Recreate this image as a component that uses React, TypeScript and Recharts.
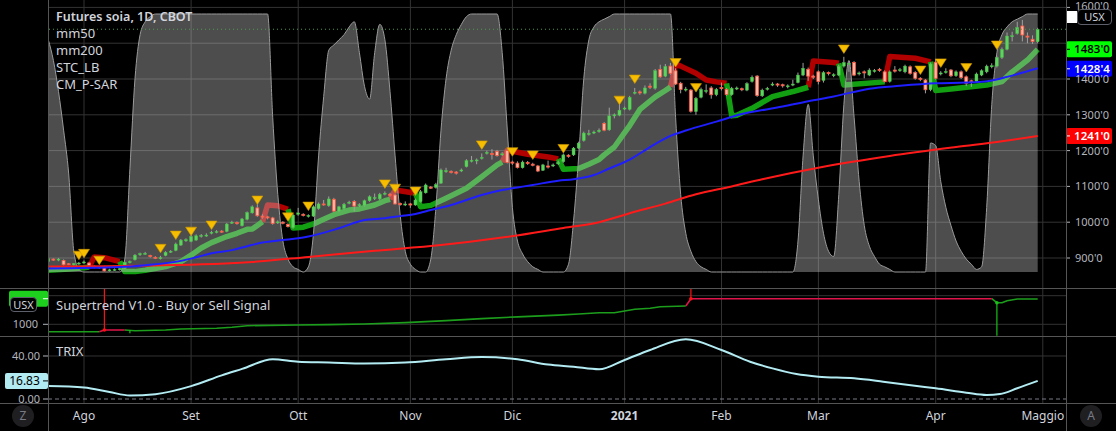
import React from "react";
import {
  ComposedChart,
  Line,
  Area,
  Bar,
  XAxis,
  YAxis,
  ReferenceLine,
  ReferenceDot,
} from "recharts";

// asse tempo (indice barra giornaliera)
const monthIdx = [7, 28, 49, 71, 91, 113, 132, 151, 174, 195];
const monthLabels = ["Ago", "Set", "Ott", "Nov", "Dic", "2021", "Feb", "Mar", "Apr", "Maggio"];
const priceTicks = [900, 1000, 1100, 1200, 1300, 1400, 1500, 1600];
const priceLabelTicks = [900, 1000, 1100, 1200, 1300, 1400, 1600];

// candele (23 lug 2020 -> 30 apr 2021)
const opens = [
  890, 897, 894, 893, 884, 881, 883, 886, 886, 877,
  873, 876, 864, 866, 867, 872, 887, 895, 909, 911,
  907, 902, 899, 907, 916, 921, 936, 948, 946, 950,
  960, 962, 969, 972, 975, 974, 997, 999, 990, 1008,
  1026, 1040, 1017, 1015, 1012, 998, 1000, 994, 985, 1022,
  1022, 1016, 1017, 1038, 1051, 1046, 1064, 1031, 1038, 1053,
  1058, 1046, 1047, 1060, 1066, 1065, 1078, 1078, 1076, 1052,
  1048, 1051, 1048, 1057, 1082, 1098, 1097, 1109, 1141, 1142,
  1140, 1143, 1155, 1170, 1171, 1178, 1192, 1192, 1198, 1188,
  1200, 1168, 1165, 1152, 1167, 1162, 1157, 1145, 1157, 1157,
  1163, 1169, 1187, 1188, 1207, 1228, 1245, 1249, 1253, 1276,
  1258, 1297, 1299, 1316, 1315, 1360, 1364, 1360, 1380, 1374,
  1427, 1408, 1436, 1423, 1388, 1369, 1369, 1309, 1349, 1365,
  1375, 1356, 1376, 1371, 1356, 1372, 1373, 1369, 1393, 1408,
  1353, 1371, 1383, 1386, 1384, 1378, 1383, 1390, 1411, 1427,
  1408, 1420, 1396, 1418, 1409, 1411, 1436, 1441, 1446, 1414,
  1420, 1411, 1421, 1427, 1420, 1393, 1425, 1423, 1420, 1434,
  1418, 1402, 1397, 1370, 1447, 1414, 1418, 1425, 1409, 1420,
  1406, 1395, 1393, 1411, 1420, 1434, 1436, 1460, 1483, 1518,
  1527, 1548, 1520, 1511, 1504,
];
const closes = [
  898, 894, 897, 881, 882, 884, 886, 889, 879, 874,
  875, 864, 867, 868, 870, 888, 890, 908, 912, 913,
  904, 900, 901, 916, 919, 939, 950, 951, 960, 962,
  963, 964, 972, 974, 973, 995, 1000, 996, 1009, 1027,
  1043, 1018, 1014, 1012, 996, 1001, 997, 988, 1020, 1026,
  1019, 1019, 1043, 1051, 1049, 1065, 1031, 1043, 1050, 1056,
  1045, 1049, 1060, 1071, 1069, 1078, 1081, 1075, 1051, 1049,
  1051, 1048, 1062, 1085, 1104, 1095, 1105, 1146, 1144, 1139,
  1137, 1146, 1172, 1173, 1174, 1181, 1195, 1189, 1186, 1191,
  1167, 1165, 1153, 1168, 1164, 1159, 1143, 1160, 1154, 1160,
  1167, 1188, 1184, 1207, 1221, 1249, 1248, 1252, 1257, 1257,
  1297, 1300, 1313, 1319, 1349, 1363, 1361, 1375, 1377, 1423,
  1406, 1435, 1416, 1386, 1371, 1372, 1310, 1346, 1371, 1368,
  1356, 1371, 1373, 1357, 1374, 1375, 1370, 1387, 1405, 1354,
  1369, 1374, 1386, 1383, 1381, 1381, 1386, 1411, 1430, 1408,
  1405, 1393, 1418, 1415, 1412, 1435, 1446, 1444, 1411, 1417,
  1417, 1425, 1424, 1424, 1393, 1420, 1422, 1426, 1436, 1416,
  1402, 1399, 1370, 1442, 1402, 1417, 1421, 1409, 1420, 1404,
  1388, 1392, 1414, 1423, 1436, 1437, 1460, 1483, 1520, 1521,
  1544, 1523, 1517, 1505, 1539,
];
const highs = [
  903, 899, 900, 896, 886, 886, 889, 893, 888, 879,
  877, 878, 870, 871, 873, 890, 893, 911, 915, 917,
  909, 905, 906, 919, 922, 943, 953, 955, 964, 966,
  967, 969, 976, 978, 978, 998, 1004, 1002, 1012, 1030,
  1047, 1050, 1022, 1018, 1015, 1005, 1003, 997, 1024, 1040,
  1025, 1022, 1047, 1055, 1062, 1072, 1068, 1046, 1054, 1060,
  1062, 1053, 1063, 1075, 1080, 1082, 1086, 1082, 1079, 1055,
  1058, 1054, 1066, 1090, 1108, 1101, 1110, 1150, 1152, 1145,
  1143, 1150, 1176, 1185, 1178, 1192, 1200, 1204, 1202, 1196,
  1203, 1172, 1170, 1172, 1171, 1166, 1160, 1163, 1172, 1164,
  1172, 1192, 1190, 1210, 1225, 1253, 1258, 1256, 1262, 1280,
  1320, 1304, 1338, 1323, 1353, 1375, 1368, 1382, 1388, 1428,
  1440, 1442, 1445, 1430, 1392, 1378, 1372, 1350, 1376, 1385,
  1380, 1375, 1390, 1375, 1378, 1379, 1376, 1391, 1410, 1411,
  1373, 1378, 1391, 1389, 1387, 1385, 1398, 1418, 1445, 1432,
  1412, 1424, 1422, 1421, 1416, 1440, 1462, 1450, 1450, 1421,
  1424, 1430, 1428, 1431, 1424, 1424, 1436, 1431, 1440, 1438,
  1422, 1405, 1400, 1446, 1456, 1422, 1430, 1428, 1424, 1424,
  1410, 1398, 1418, 1427, 1440, 1444, 1465, 1488, 1530, 1532,
  1560, 1565, 1530, 1522, 1543,
];
const lows = [
  887, 892, 891, 879, 880, 879, 881, 884, 876, 871,
  870, 862, 862, 864, 865, 870, 885, 893, 906, 909,
  901, 897, 896, 905, 914, 919, 934, 945, 944, 948,
  957, 959, 966, 969, 970, 972, 995, 993, 988, 1005,
  1024, 1015, 1010, 1008, 993, 995, 994, 985, 982, 1018,
  1016, 1013, 1015, 1035, 1046, 1043, 1029, 1028, 1036, 1050,
  1030, 1043, 1044, 1057, 1062, 1062, 1075, 1072, 1049, 1046,
  1045, 1040, 1046, 1055, 1080, 1093, 1094, 1107, 1138, 1136,
  1133, 1140, 1153, 1167, 1162, 1175, 1189, 1175, 1183, 1185,
  1164, 1160, 1150, 1150, 1160, 1156, 1140, 1143, 1150, 1154,
  1160, 1166, 1180, 1185, 1204, 1225, 1242, 1246, 1250, 1254,
  1255, 1290, 1296, 1313, 1312, 1357, 1356, 1357, 1372, 1370,
  1403, 1405, 1412, 1383, 1360, 1365, 1306, 1300, 1346, 1360,
  1345, 1352, 1368, 1353, 1353, 1369, 1366, 1366, 1390, 1350,
  1350, 1368, 1380, 1378, 1376, 1374, 1380, 1388, 1408, 1395,
  1400, 1385, 1390, 1410, 1405, 1408, 1432, 1420, 1408, 1410,
  1402, 1408, 1418, 1420, 1390, 1390, 1418, 1420, 1416, 1412,
  1398, 1394, 1360, 1366, 1398, 1410, 1415, 1405, 1406, 1400,
  1380, 1378, 1390, 1408, 1416, 1430, 1432, 1456, 1480, 1505,
  1524, 1505, 1500, 1498, 1500,
];

// STC_LB (0-100)
const stcValues = [
  90, 82, 70, 55, 38, 8, 1, 0, 0, 0,
  0, 0, 0, 0, 0, 5, 40, 75, 92, 97,
  99, 100, 100, 100, 100, 100, 100, 100, 100, 100,
  100, 100, 100, 100, 100, 100, 100, 100, 100, 100,
  100, 100, 100, 100, 60, 30, 12, 5, 2, 1,
  0, 2, 15, 45, 68, 86, 88, 90, 92, 95,
  97, 85, 72, 67, 85, 96, 90, 70, 45, 22,
  8, 3, 1, 0, 0, 5, 25, 55, 75, 86,
  92, 96, 99, 100, 100, 100, 100, 100, 100, 85,
  55, 25, 12, 7, 4, 2, 1, 0, 0, 0,
  0, 0, 3, 20, 45, 75, 90, 95, 97, 98,
  99, 100, 100, 100, 100, 100, 100, 100, 100, 100,
  100, 100, 100, 60, 30, 15, 8, 4, 2, 1,
  0, 0, 0, 0, 0, 0, 0, 0, 0, 0,
  0, 0, 0, 0, 0, 0, 0, 12, 45, 65,
  45, 28, 15, 8, 6, 30, 65, 82, 60, 35,
  18, 10, 6, 3, 2, 1, 0, 0, 0, 0,
  0, 0, 0, 50, 49, 35, 25, 18, 12, 8,
  5, 3, 1, 2, 25, 65, 85, 92, 95, 97,
  98, 99, 100, 100, 100,
];

// medie mobili [indice, valore]
const ma50Pts: [number, number][] = [
  [0, 871], [14, 875], [19, 880], [26, 892], [29, 902], [32, 913], [36, 922], [39, 933],
  [42, 943], [46, 950], [49, 955], [51, 960], [57, 983], [62, 1006], [66, 1011], [69, 1017],
  [72, 1023], [75, 1034], [79, 1048], [82, 1062], [85, 1076], [89, 1090], [92, 1097], [95, 1104],
  [100, 1116], [103, 1120], [107, 1132], [110, 1150], [114, 1175], [118, 1210], [122, 1241],
  [125, 1256], [131, 1281], [136, 1302], [144, 1323], [149, 1338], [154, 1351], [161, 1373],
  [167, 1381], [174, 1388], [180, 1390], [185, 1396], [188, 1406], [194, 1430],
];
const ma200Pts: [number, number][] = [
  [0, 876], [20, 879], [40, 889], [51, 903], [64, 920], [77, 936], [89, 957], [101, 984],
  [108, 1000], [114, 1025], [121, 1052], [127, 1078], [134, 1100], [140, 1120], [152, 1155],
  [165, 1185], [178, 1210], [187, 1226], [194, 1241],
];

// CM_P-SAR (linea spessa) [indice, valore]; null = interruzione
const trailGreen: [number, number | null][] = [
  [0, 866], [4, 869], [7, 873], [8, 875], [8.5, null],
  [14, 890], [15, 862], [17, 862], [19, 866], [23, 876], [26, 890], [28, 908], [30, 928],
  [32, 943], [35, 960], [37, 969], [39, 980], [40, 981], [42, 1001], [42.5, null],
  [47, 1036], [48, 984], [50, 986], [52, 995], [54, 1008], [56, 1021], [59, 1034], [61, 1037],
  [64, 1048], [66, 1060], [67, 1064], [67.5, null],
  [72, 1081], [73, 1043], [75, 1047], [78, 1067], [82, 1095], [85, 1127], [88, 1160], [89, 1168], [89.5, null],
  [100, 1177], [101, 1148], [104, 1150], [106, 1162], [108, 1175], [109, 1188], [111, 1210],
  [113, 1250], [114, 1270], [116, 1315], [119, 1350], [121, 1368], [122, 1378], [122.5, null],
  [133, 1388], [134, 1297], [135, 1299], [138, 1318], [142, 1351], [146, 1365], [149, 1377], [149.5, null],
  [155, 1444], [156, 1383], [164, 1392], [164.5, null],
  [173, 1448], [174, 1368], [177, 1372], [184, 1383], [187, 1393], [189, 1420], [192, 1453], [194, 1483],
];
const trailRed: [number, number | null][] = [
  [8, 875], [9, 903], [11, 901], [14, 890], [14.5, null],
  [42, 1001], [43, 1048], [45, 1046], [47, 1036], [47.5, null],
  [67, 1064], [68, 1090], [72, 1081], [72.5, null],
  [89, 1168], [90, 1201], [94, 1190], [98, 1182], [100, 1177], [100.5, null],
  [122, 1378], [123, 1442], [124, 1436], [127, 1416], [129, 1397], [131, 1392], [133, 1388], [133.5, null],
  [149, 1377], [150, 1450], [154, 1446], [155, 1444], [155.5, null],
  [164, 1392], [165, 1463], [170, 1458], [173, 1448],
];

// segnali (triangoli gialli)
const sigIdx = [6, 7, 10, 22, 25, 28, 32, 41, 47, 51, 66, 68, 72, 85, 91, 95, 101, 112, 115, 123, 127, 156, 171, 175, 180, 186];
const sigPrice = [908, 913, 894, 927, 964, 975, 992, 1062, 1015, 1045, 1107, 1095, 1087, 1216, 1197, 1188, 1206, 1341, 1400, 1446, 1376, 1484, 1425, 1445, 1432, 1495];

// Supertrend V1.0
const stGreen: [number, number | null][] = [
  [0, 871], [10, 871], [10.5, null],
  [15, 900], [17, 888], [23, 900], [26, 918], [33, 930], [36, 948], [39, 976], [49, 988],
  [55, 995], [62, 1005], [70, 1030], [78, 1065], [85, 1100], [92, 1130], [100, 1160], [104, 1180],
  [108, 1203], [111, 1203], [113, 1232], [115, 1262], [118, 1280], [120, 1308], [125, 1320], [125.5, null],
  [185, 1447], [186, 1378], [187, 1378], [188, 1412], [190, 1442], [194, 1442],
];
const stRed: [number, number | null][] = [
  [10, 871], [11, 900], [15, 900], [15.5, null],
  [125, 1320], [126, 1447], [185, 1447],
];

// TRIX
const trixPts: [number, number][] = [
  [0, 12], [7, 10.8], [12, 6.5], [16, 3.3], [21, 4.5], [28, 12], [34, 22], [38, 28], [44, 37],
  [49, 34.7], [55, 34], [62, 33], [70, 34], [78, 37], [85, 39], [92, 37], [98, 32], [103, 30],
  [108, 27.6], [113, 36.3], [118, 45.6], [125, 55.5], [132, 45.6], [137.6, 34.7], [142, 28.5],
  [146.7, 23.3], [151, 20.8], [158, 19.2], [163.7, 16.1], [170.3, 12.1], [174, 10], [180, 5.9],
  [184, 3.7], [186.6, 4.6], [190, 10], [194, 16.83],
];

const W = 1116;
const X_DOMAIN: [number, number] = [-0.06, 199.55];
const PRICE_DOMAIN: [number, number] = [816.2, 1620.7];
const TXT = "#d1d4dc";
const AX = "#b2b5be";
const GRID = "#333333";

const mainRows = opens.map((o, i) => ({
  i,
  o,
  h: highs[i],
  l: lows[i],
  c: closes[i],
  stc: stcValues[i],
}));
const toRows = (pts: [number, number | null][]) => pts.map(([i, v]) => ({ i, v }));

const renderCandle = (props: any) => {
  const { x, width, payload } = props;
  let { y, height } = props;
  if (!payload || y == null || height == null) return <g />;
  if (height < 0) {
    y = y + height;
    height = -height;
  }
  const { o, h, l, c } = payload;
  const ratio = h > l ? height / (h - l) : 0;
  const yO = y + (h - o) * ratio;
  const yC = y + (h - c) * ratio;
  const up = c >= o;
  const top = Math.min(yO, yC);
  const bh = Math.max(1, Math.abs(yO - yC));
  const cx = x + width / 2;
  return (
    <g>
      <line x1={cx} x2={cx} y1={y} y2={y + height} stroke="#a0a0a0" strokeWidth={1} />
      <rect
        x={x}
        y={top}
        width={width}
        height={bh}
        fill={up ? "#5fd35f" : "#ffb7a6"}
        stroke={up ? "#44c044" : "#f4553f"}
        strokeWidth={up ? 0.4 : 0.8}
      />
    </g>
  );
};

const renderTriangle = (props: any) => {
  const { cx, cy } = props;
  if (cx == null || cy == null) return <g />;
  return (
    <path
      d={`M${cx - 5.5},${cy - 4} L${cx + 5.5},${cy - 4} L${cx},${cy + 4.5} Z`}
      fill="#f7bd00"
      stroke="#c99500"
      strokeWidth={0.6}
    />
  );
};

// etichette asse prezzi (la 1600 sta appena sopra il riquadro USX)
const PriceTick = (props: any) => {
  const { x, y, payload } = props;
  const v = payload.value as number;
  const dy = v === 1600 ? -1 : 0;
  return (
    <text x={x} y={y + dy + 4} textAnchor="start" fontSize={11} fill={AX}>
      {`${v}'0`}
    </text>
  );
};

const rightTag = (text: string, bg: string, fg: string) => (props: any) => {
  const vb = props.viewBox;
  if (!vb) return <g />;
  const x = vb.x + vb.width;
  const y = vb.y;
  return (
    <g>
      <rect x={x} y={y - 8} width={46} height={16} rx={2} fill={bg} />
      <line x1={x} x2={x + 4} y1={y} y2={y} stroke={fg} />
      <text x={x + 26} y={y + 4} textAnchor="middle" fontSize={11.5} fontWeight={600} fill={fg}>
        {text}
      </text>
    </g>
  );
};

const leftTag = (text: string, bg: string, fg: string, w: number) => (props: any) => {
  const vb = props.viewBox;
  if (!vb) return <g />;
  const x = vb.x;
  const y = vb.y;
  return (
    <g>
      <rect x={x - w} y={y - 8} width={w} height={16} rx={2} fill={bg} />
      <line x1={x - 5} x2={x} y1={y} y2={y} stroke={fg} />
      <text x={x - w / 2 - 2} y={y + 4.5} textAnchor="middle" fontSize={12} fill={fg}>
        {text}
      </text>
    </g>
  );
};

const TimeTick = (props: any) => {
  const { x, y, payload } = props;
  const k = monthIdx.indexOf(payload.value);
  const label = k >= 0 ? monthLabels[k] : "";
  return (
    <text
      x={x}
      y={y + 17}
      textAnchor="middle"
      fontSize={12}
      fontWeight={label === "2021" ? 700 : 400}
      fill={TXT}
    >
      {label}
    </text>
  );
};

const badge: React.CSSProperties = {
  position: "absolute",
  border: "1px solid #5d606b",
  borderRadius: 4,
  background: "#000",
  color: TXT,
  fontSize: 11,
  lineHeight: "13px",
  textAlign: "center",
  boxSizing: "border-box",
};

const legendLine = (top: number, text: string, bold = false) => (
  <div
    style={{
      position: "absolute",
      left: 56,
      top,
      fontSize: bold ? 12.5 : 13,
      lineHeight: "17px",
      color: TXT,
      fontWeight: bold ? 600 : 400,
      whiteSpace: "nowrap",
    }}
  >
    {text}
  </div>
);

const roundBtn: React.CSSProperties = {
  position: "absolute",
  top: 405,
  width: 22,
  height: 22,
  borderRadius: 11,
  background: "#1f1f22",
  color: "#787b86",
  fontSize: 12,
  lineHeight: "22px",
  textAlign: "center",
};

export default function App() {
  return (
    <div
      style={{
        position: "absolute",
        left: 0,
        top: 0,
        width: W,
        height: 431,
        background: "#000",
        overflow: "hidden",
        fontFamily: "'Noto Sans', sans-serif",
      }}
    >
      {/* pannello prezzi: livello inferiore (griglia + CM_P-SAR sotto l'area STC) */}
      <div style={{ position: "absolute", left: 0, top: 0 }}>
        <ComposedChart width={W} height={288} data={mainRows} margin={{ top: 0, right: 50, bottom: 0, left: 48 }}>
          <XAxis type="number" dataKey="i" domain={X_DOMAIN} hide allowDataOverflow />
          <YAxis yAxisId="price" hide domain={PRICE_DOMAIN} allowDataOverflow />
          {priceTicks.map((v) => (
            <ReferenceLine key={`h${v}`} yAxisId="price" y={v} stroke={GRID} />
          ))}
          {monthIdx.map((m) => (
            <ReferenceLine key={`v${m}`} yAxisId="price" x={m} stroke={GRID} />
          ))}
          <Line
            yAxisId="price"
            data={toRows(trailRed)}
            dataKey="v"
            stroke="#b00000"
            strokeWidth={5.5}
            dot={false}
            activeDot={false}
            strokeLinejoin="round"
            isAnimationActive={false}
          />
          <Line
            yAxisId="price"
            data={toRows(trailGreen)}
            dataKey="v"
            stroke="#12a012"
            strokeWidth={5.5}
            dot={false}
            activeDot={false}
            strokeLinejoin="round"
            isAnimationActive={false}
          />
        </ComposedChart>
      </div>

      {/* pannello prezzi: livello superiore */}
      <div style={{ position: "absolute", left: 0, top: 0 }}>
        <ComposedChart width={W} height={288} data={mainRows} margin={{ top: 0, right: 0, bottom: 0, left: 48 }}>
          <XAxis type="number" dataKey="i" domain={X_DOMAIN} hide allowDataOverflow />
          <YAxis
            yAxisId="price"
            orientation="right"
            width={50}
            domain={PRICE_DOMAIN}
            ticks={priceLabelTicks}
            interval={0}
            allowDataOverflow
            axisLine={false}
            tickLine={{ stroke: AX }}
            tickSize={4}
            tickMargin={5}
            tick={<PriceTick />}
          />
          <YAxis yAxisId="stc" hide domain={[-6.2, 105.43]} allowDataOverflow />
          <Area
            yAxisId="stc"
            dataKey="stc"
            type="monotone"
            baseValue={0}
            fill="#d6d6d6"
            fillOpacity={0.36}
            stroke="#9a9a9a"
            strokeWidth={1}
            dot={false}
            activeDot={false}
            isAnimationActive={false}
          />
          <Line
            yAxisId="price"
            data={ma200Pts.map(([i, v]) => ({ i, v }))}
            dataKey="v"
            type="monotone"
            stroke="#ff1a1a"
            strokeWidth={2}
            dot={false}
            activeDot={false}
            isAnimationActive={false}
          />
          <Line
            yAxisId="price"
            data={ma50Pts.map(([i, v]) => ({ i, v }))}
            dataKey="v"
            type="monotone"
            stroke="#1e1eff"
            strokeWidth={2}
            dot={false}
            activeDot={false}
            isAnimationActive={false}
          />
          <Bar
            yAxisId="price"
            dataKey={(d: any) => [d.l, d.h]}
            barSize={3}
            shape={renderCandle}
            isAnimationActive={false}
          />
          {sigIdx.map((s, k) => (
            <ReferenceDot key={`s${k}`} yAxisId="price" x={s} y={sigPrice[k]} shape={renderTriangle} />
          ))}
          <ReferenceLine yAxisId="price" y={1539} stroke="#4f9a4f" strokeDasharray="1 3" />
          <ReferenceLine yAxisId="price" y={1241} stroke="none" label={rightTag("1241'0", "#ff0000", "#ffffff")} />
          <ReferenceLine yAxisId="price" y={1428.5} stroke="none" label={rightTag("1428'4", "#0000ff", "#ffffff")} />
          <ReferenceLine yAxisId="price" y={1483} stroke="none" label={rightTag("1483'0", "#00ff00", "#000000")} />
        </ComposedChart>
      </div>

      {/* pannello Supertrend */}
      <div style={{ position: "absolute", left: 0, top: 288 }}>
        <ComposedChart width={W} height={48} data={mainRows} margin={{ top: 0, right: 50, bottom: 0, left: 0 }}>
          <XAxis type="number" dataKey="i" domain={X_DOMAIN} hide allowDataOverflow />
          <YAxis
            yAxisId="st"
            orientation="left"
            width={48}
            domain={[795.5, 1634.6]}
            ticks={[1000]}
            interval={0}
            allowDataOverflow
            axisLine={false}
            tickLine={{ stroke: AX }}
            tickSize={5}
            tickMargin={5}
            tick={{ fill: AX, fontSize: 11 }}
          />
          {[1000, 1500].map((v) => (
            <ReferenceLine key={`sh${v}`} yAxisId="st" y={v} stroke={GRID} />
          ))}
          {monthIdx.map((m) => (
            <ReferenceLine key={`sv${m}`} yAxisId="st" x={m} stroke={GRID} />
          ))}
          <Line
            yAxisId="st"
            data={toRows(stGreen)}
            dataKey="v"
            stroke="#1c9e1c"
            strokeWidth={1.6}
            dot={false}
            activeDot={false}
            isAnimationActive={false}
          />
          <Line
            yAxisId="st"
            data={toRows(stRed)}
            dataKey="v"
            stroke="#e0144a"
            strokeWidth={1.6}
            dot={false}
            activeDot={false}
            isAnimationActive={false}
          />
          <ReferenceLine yAxisId="st" segment={[{ x: 11, y: 1629 }, { x: 11, y: 900 }]} stroke="#ff1010" strokeWidth={1.2} />
          <ReferenceLine yAxisId="st" segment={[{ x: 126, y: 1629 }, { x: 126, y: 1447 }]} stroke="#ff1010" strokeWidth={1.2} />
          <ReferenceLine yAxisId="st" segment={[{ x: 186, y: 1378 }, { x: 186, y: 800 }]} stroke="#18c018" strokeWidth={1.2} />
          <ReferenceLine yAxisId="st" segment={[{ x: 16, y: 900 }, { x: 16, y: 843 }]} stroke="#18c018" strokeWidth={1.2} />
          <ReferenceDot yAxisId="st" x={11} y={900} r={1.8} fill="#ff1010" stroke="none" />
          <ReferenceDot yAxisId="st" x={126} y={1447} r={1.8} fill="#ff1010" stroke="none" />
          <ReferenceDot yAxisId="st" x={186} y={1378} r={1.8} fill="#18c018" stroke="none" />
          <ReferenceLine yAxisId="st" y={1447} stroke="none" label={leftTag("", "#1ed01e", "#ffffff", 39)} />
        </ComposedChart>
      </div>

      {/* pannello TRIX + asse tempo */}
      <div style={{ position: "absolute", left: 0, top: 336 }}>
        <ComposedChart width={W} height={95} data={mainRows} margin={{ top: 0, right: 50, bottom: 0, left: 0 }}>
          <XAxis
            type="number"
            dataKey="i"
            domain={X_DOMAIN}
            allowDataOverflow
            ticks={monthIdx}
            interval={0}
            height={28}
            axisLine={false}
            tickLine={false}
            tickSize={0}
            tickMargin={0}
            tick={<TimeTick />}
          />
          <YAxis
            yAxisId="trix"
            orientation="left"
            width={48}
            domain={[-3.72, 58.6]}
            ticks={[0, 40]}
            interval={0}
            allowDataOverflow
            axisLine={false}
            tickLine={{ stroke: AX }}
            tickSize={5}
            tickMargin={3}
            tick={{ fill: AX, fontSize: 11 }}
            tickFormatter={(v: number) => v.toFixed(2)}
          />
          <ReferenceLine yAxisId="trix" y={40} stroke={GRID} />
          {monthIdx.map((m) => (
            <ReferenceLine key={`tv${m}`} yAxisId="trix" x={m} stroke={GRID} />
          ))}
          <ReferenceLine yAxisId="trix" y={0} stroke="#787b86" strokeDasharray="4 3" />
          <Line
            yAxisId="trix"
            data={trixPts.map(([i, v]) => ({ i, v }))}
            dataKey="v"
            type="monotone"
            stroke="#b2ebf2"
            strokeWidth={2}
            dot={false}
            activeDot={false}
            isAnimationActive={false}
          />
          <ReferenceLine yAxisId="trix" y={16.83} stroke="none" label={leftTag("16.83", "#b2ebf2", "#000000", 43)} />
        </ComposedChart>
      </div>

      {/* bordi e separatori */}
      <div style={{ position: "absolute", left: 48, top: 0, width: 1, height: 431, background: "#555" }} />
      <div style={{ position: "absolute", left: 1066, top: 0, width: 1, height: 431, background: "#555" }} />
      <div style={{ position: "absolute", left: 0, top: 288, width: W, height: 1, background: "#555" }} />
      <div style={{ position: "absolute", left: 0, top: 336, width: W, height: 1, background: "#555" }} />
      <div style={{ position: "absolute", left: 0, top: 403, width: W, height: 1, background: "#555" }} />

      {/* legende */}
      {legendLine(8, "Futures soia, 1D, CBOT", true)}
      {legendLine(25, "mm50")}
      {legendLine(42, "mm200")}
      {legendLine(59, "STC_LB")}
      {legendLine(76, "CM_P-SAR")}
      {legendLine(297, "Supertrend V1.0 - Buy or Sell Signal")}
      {legendLine(343, "TRIX")}

      {/* etichette valuta */}
      <div style={{ position: "absolute", left: 1067, top: 11, width: 10, height: 12, background: "#fff" }} />
      <div style={{ ...badge, left: 1077, top: 9, width: 35, height: 16 }}>USX</div>
      <div style={{ ...badge, left: 10, top: 297, width: 27, height: 15 }}>USX</div>

      {/* pulsanti scala */}
      <div style={{ ...roundBtn, left: 12 }}>Z</div>
      <div style={{ ...roundBtn, left: 1080 }}>A</div>
    </div>
  );
}
